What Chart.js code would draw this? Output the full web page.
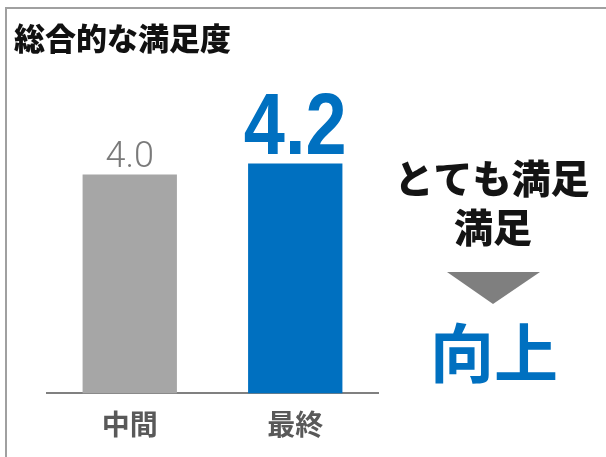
<!DOCTYPE html>
<html lang="ja">
<head>
<meta charset="utf-8">
<title>総合的な満足度</title>
<script src="https://cdn.jsdelivr.net/npm/chart.js@4.4.1/dist/chart.umd.min.js"></script>
<style>
  html, body { margin: 0; padding: 0; background: #fff; }
  canvas { display: block; }
</style>
</head>
<body>
<canvas id="chart" width="606" height="457"></canvas>
<script>
// survey rounds and average overall satisfaction (5-point scale)
var periods = ['中間', '最終'];
var scores = [4.0, 4.2];

var barColors = ['#a6a6a6', '#0070c0'];
var JP_FONT = '"Noto Sans CJK JP", "Noto Sans", sans-serif';

// value labels above the bars, the final score is emphasised
var valueLabelStyles = [
  { color: '#7a7a7a', font: '300 36px Roboto, "Liberation Sans", sans-serif', squeeze: 1, gap: 7 },
  { color: '#0070c0', font: 'bold 88px "Liberation Sans", Arial, sans-serif', squeeze: 0.84, gap: 10 }
];

var decorPlugin = {
  id: 'decor',
  beforeDraw: function(chart) {
    var ctx = chart.ctx;
    ctx.save();
    // frame on the top and left edge
    ctx.strokeStyle = '#a0a0a0';
    ctx.lineWidth = 2;
    ctx.beginPath();
    ctx.moveTo(6, chart.height);
    ctx.lineTo(6, 8);
    ctx.lineTo(chart.width, 8);
    ctx.stroke();

    // heading
    ctx.fillStyle = '#111';
    ctx.font = '900 31px ' + JP_FONT;
    ctx.textAlign = 'left';
    ctx.textBaseline = 'middle';
    ctx.fillText('総合的な満足度', 14, 38);
    ctx.restore();
  },
  afterDatasetsDraw: function(chart) {
    var ctx = chart.ctx;
    var bars = chart.getDatasetMeta(0).data;
    ctx.save();
    ctx.textAlign = 'center';
    ctx.textBaseline = 'alphabetic';
    bars.forEach(function(bar, i) {
      var st = valueLabelStyles[i];
      ctx.save();
      ctx.font = st.font;
      ctx.fillStyle = st.color;
      ctx.translate(bar.x, bar.y - st.gap);
      ctx.scale(st.squeeze, 1);
      ctx.fillText(scores[i].toFixed(1), 0, 0);
      ctx.restore();
    });

    // side note: "very satisfied + satisfied" went up
    ctx.textBaseline = 'middle';
    ctx.fillStyle = '#141414';
    ctx.font = '900 39px ' + JP_FONT;
    ctx.fillText('とても満足', 492, 178);
    ctx.fillText('満足', 493, 227);

    ctx.fillStyle = '#7f7f7f';
    ctx.beginPath();
    ctx.moveTo(447, 272);
    ctx.lineTo(540, 272);
    ctx.lineTo(493, 304);
    ctx.closePath();
    ctx.fill();

    ctx.fillStyle = '#0070c0';
    ctx.font = 'bold 64px ' + JP_FONT;
    ctx.fillText('向上', 494, 353);
    ctx.restore();
  }
};

new Chart(document.getElementById('chart'), {
  type: 'bar',
  data: {
    labels: periods,
    datasets: [{
      data: scores,
      backgroundColor: barColors,
      borderWidth: 0,
      barPercentage: 0.57,
      categoryPercentage: 1
    }]
  },
  options: {
    responsive: false,
    animation: false,
    layout: { padding: { top: 65, left: 47, right: 228, bottom: 2 } },
    plugins: {
      legend: { display: false },
      tooltip: { enabled: false }
    },
    scales: {
      x: {
        grid: { display: false, drawTicks: false },
        border: { display: true, color: '#808080', width: 2 },
        ticks: {
          color: '#595959',
          padding: 14,
          font: { family: JP_FONT, size: 28, weight: 'bold' }
        }
      },
      y: { display: false, min: 0, max: 6 }
    }
  },
  plugins: [decorPlugin]
});
</script>
</body>
</html>
